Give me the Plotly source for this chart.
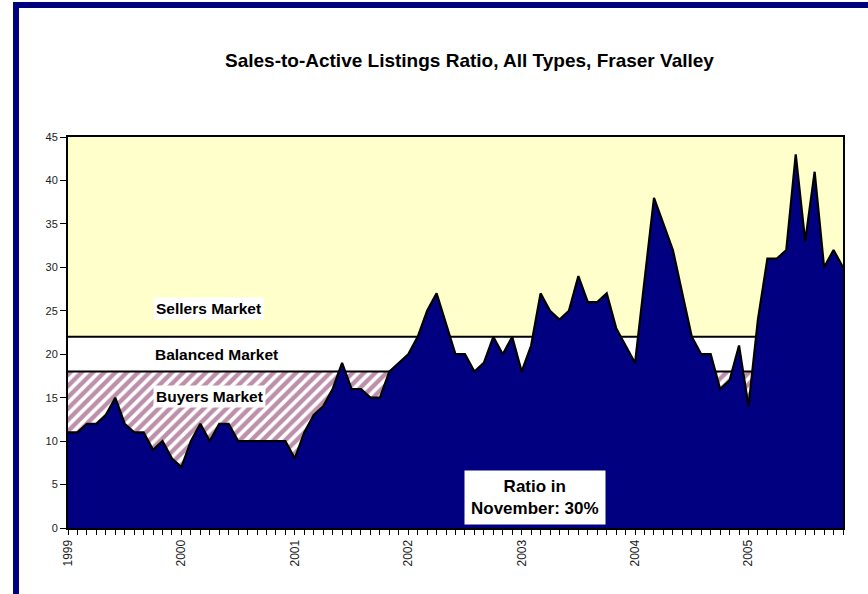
import plotly.graph_objects as go

# Monthly sales-to-active listings ratio, Jan 1999 .. Nov 2005 (%)
ratio = [
    11, 11, 12, 12, 13, 15, 12, 11, 11, 9, 10, 8,          # 1999
    7, 10, 12, 10, 12, 12, 10, 10, 10, 10, 10, 10,         # 2000
    8, 11, 13, 14, 16, 19, 16, 16, 15, 15, 18, 19,         # 2001
    20, 22, 25, 27, 23.5, 20, 20, 18, 19, 22, 20, 22,      # 2002
    18, 21, 27, 25, 24, 25, 29, 26, 26, 27, 23, 21,        # 2003
    19, 28.5, 38, 35, 32, 27, 22, 20, 20, 16, 17, 21,      # 2004
    14, 24, 31, 31, 32, 43, 33, 41, 30, 32, 30,            # 2005 (to Nov)
]
months = list(range(len(ratio)))
year_labels = ["1999", "2000", "2001", "2002", "2003", "2004", "2005"]
year_pos = [12 * i for i in range(len(year_labels))]

buyers_top = 18
balanced_top = 22
sellers_top = 45

title_text = "Sales-to-Active Listings Ratio, All Types, Fraser Valley"
zone_labels = ["Sellers Market", "Balanced Market", "Buyers Market"]
note_text = "Ratio in<br>November: 30%"

NAVY = "#000080"
YELLOW = "#FFFFCC"
STRIPE = "#7a1f55"
FONT = "Arial, Liberation Sans, sans-serif"

fig = go.Figure()

# Buyers zone (hatched)
fig.add_trace(go.Scatter(
    x=months, y=[buyers_top] * len(months), mode="lines",
    line=dict(color="black", width=2), fill="tozeroy",
    fillcolor="white",
    fillpattern=dict(shape="/", fgcolor=STRIPE, bgcolor="white", size=8, solidity=0.55),
    hoverinfo="skip", showlegend=False,
))
# Balanced zone (white)
fig.add_trace(go.Scatter(
    x=months, y=[balanced_top] * len(months), mode="lines",
    line=dict(color="black", width=2), fill="tonexty", fillcolor="white",
    hoverinfo="skip", showlegend=False,
))
# Sellers zone (yellow)
fig.add_trace(go.Scatter(
    x=months, y=[sellers_top] * len(months), mode="lines",
    line=dict(color="black", width=0), fill="tonexty", fillcolor=YELLOW,
    hoverinfo="skip", showlegend=False,
))
# Ratio series
fig.add_trace(go.Scatter(
    x=months, y=ratio, mode="lines",
    line=dict(color="black", width=2.2), fill="tozeroy", fillcolor=NAVY,
    showlegend=False,
))

zone_y = [25.3, 19.95, 15.1]
zone_x = [14.9, 15.7, 15.0]
for txt, xx, yy in zip(zone_labels, zone_x, zone_y):
    fig.add_annotation(
        x=xx, y=yy, xref="x", yref="y", text="<b>%s</b>" % txt, showarrow=False,
        font=dict(family=FONT, size=15.5, color="black"),
        bgcolor="white", borderpad=2,
    )

fig.add_annotation(
    x=49.4, y=0.3, xref="x", yref="y", yanchor="bottom", text="<b>%s</b>" % note_text,
    showarrow=False, font=dict(family=FONT, size=17, color="black"),
    bgcolor="white", borderpad=6,
)

L, R, T, B = 68, 25, 137, 66
pw, ph = 868 - L - R, 594 - T - B
bottom_px = 594 - B

fig.add_annotation(
    x=(469 - L) / pw, y=(bottom_px - 60) / ph, xref="paper", yref="paper",
    xanchor="center", yanchor="middle",
    text="<b>%s</b>" % title_text, showarrow=False,
    font=dict(family=FONT, size=19, color="black"),
)

# outer dark-blue frame (cropped at right & bottom)
fig.add_shape(
    type="rect", xref="paper", yref="paper",
    x0=(16 - L) / pw, x1=(885 - L) / pw,
    y0=-(620 - bottom_px) / ph, y1=(bottom_px - 5) / ph,
    line=dict(color=NAVY, width=6), fillcolor="rgba(0,0,0,0)", layer="above",
)

fig.update_layout(
    width=868, height=594,
    margin=dict(l=L, r=R, t=T, b=B),
    paper_bgcolor="white", plot_bgcolor="white",
    font=dict(family=FONT, size=11, color="#222"),
    xaxis=dict(
        range=[0, len(ratio) - 1], tickmode="array", tickvals=year_pos, ticktext=year_labels,
        tickangle=-90, ticks="outside", ticklen=5, tickcolor="black",
        showgrid=False, zeroline=False, showline=True, mirror=True,
        linecolor="black", linewidth=2,
        minor=dict(tickmode="linear", tick0=0, dtick=1, ticks="outside", ticklen=5,
                   tickcolor="black", showgrid=False),
        tickfont=dict(family=FONT, size=12, color="#222"),
    ),
    yaxis=dict(
        range=[0, 45], tickmode="linear", tick0=0, dtick=5,
        ticks="outside", ticklen=6, tickcolor="black",
        showgrid=False, zeroline=False, showline=True, mirror=True,
        linecolor="black", linewidth=2,
        tickfont=dict(family=FONT, size=11, color="#222"),
    ),
)

fig.write_html(
    "out.html",
    config={"displayModeBar": False},
    post_script="document.body.style.margin='0px';document.body.style.padding='0px';",
)
